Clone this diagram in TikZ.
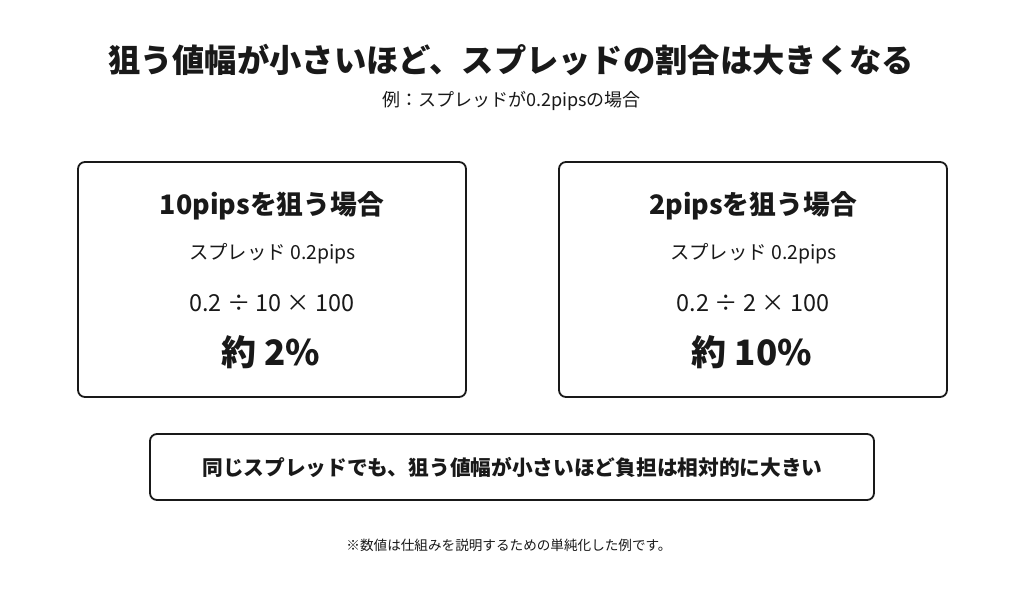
\documentclass[tikz,border=0pt]{standalone}
\usepackage{fontspec}
\setmainfont{Noto Sans CJK JP}
\begin{document}
\begin{tikzpicture}[x=1pt,y=-1pt,
  panel/.style={draw=black!90, line width=1.8pt, rounded corners=7pt, fill=white, inner sep=0pt},
  txt/.style={inner sep=0pt, anchor=center, text=black!90}]
\useasboundingbox[fill=white] (0,0) rectangle (1024,589);
\node[txt, font=\fontsize{32.3}{36}\selectfont\bfseries] (title) at (511,60) {狙う値幅が小さいほど、スプレッドの割合は大きくなる};
\node[txt, font=\fontsize{18}{21}\selectfont] (sub) at (511.5,101) {例：スプレッドが0.2pipsの場合};
% left panel
\node[panel, minimum width=388pt, minimum height=235pt] (lbox) at (272,279.5) {};
\node[txt, font=\fontsize{26.8}{31}\selectfont\bfseries] (lt) at (272,206) {10pipsを狙う場合};
\node[txt, font=\fontsize{19.4}{23}\selectfont] (ls) at (272.5,254) {スプレッド 0.2pips};
\node[txt, font=\fontsize{23.4}{27}\selectfont] (lf) at (272,303) {0.2 ÷ 10 × 100};
\node[txt, font=\fontsize{35}{40}\selectfont\bfseries] (lr) at (271,352) {約 2\%};
% right panel
\node[panel, minimum width=388pt, minimum height=235pt] (rbox) at (753,279.5) {};
\node[txt, font=\fontsize{26.8}{31}\selectfont\bfseries] (rt) at (753,206) {2pipsを狙う場合};
\node[txt, font=\fontsize{19.4}{23}\selectfont] (rs) at (753.5,254) {スプレッド 0.2pips};
\node[txt, font=\fontsize{23.4}{27}\selectfont] (rf) at (753,303) {0.2 ÷ 2 × 100};
\node[txt, font=\fontsize{35}{40}\selectfont\bfseries] (rr) at (752,352) {約 10\%};
% bottom
\node[panel, minimum width=724pt, minimum height=66pt] (bbox) at (512,467) {};
\node[txt, font=\fontsize{20.7}{24}\selectfont\bfseries] (bt) at (512.5,467) {同じスプレッドでも、狙う値幅が小さいほど負担は相対的に大きい};
\node[txt, font=\fontsize{13.6}{16}\selectfont] (note) at (509,545) {※数値は仕組みを説明するための単純化した例です。};
\end{tikzpicture}
\end{document}
